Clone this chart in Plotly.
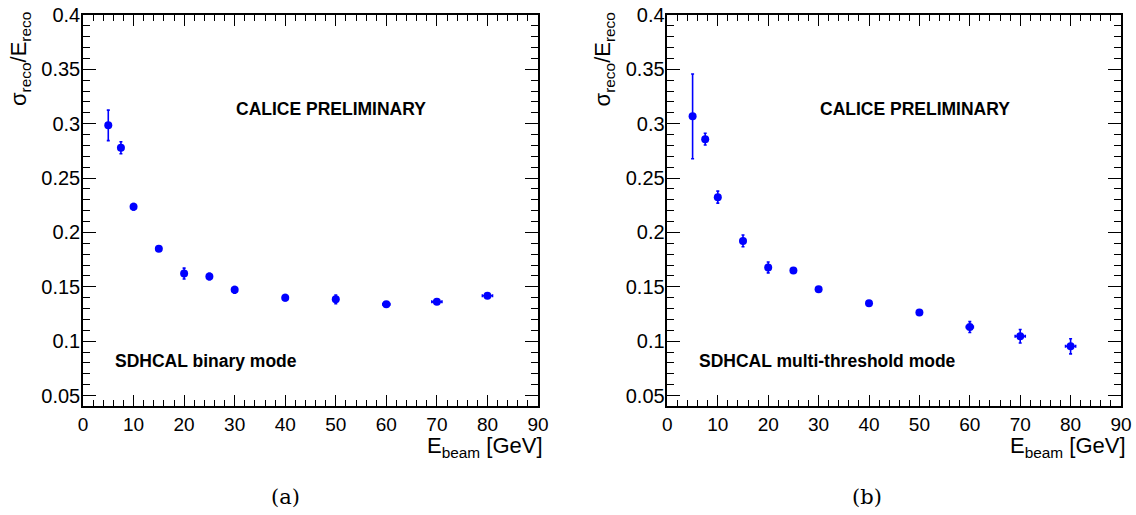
import plotly.graph_objects as go

# ---- data ----
energy_a = [5, 7.5, 10, 15, 20, 25, 30, 40, 50, 60, 70, 80]
res_a = [0.2985, 0.2779, 0.2236, 0.1850, 0.1622, 0.1595, 0.1472, 0.1400, 0.1385, 0.1340, 0.1362, 0.1418]
err_a = [0.0140, 0.0055, 0.0030, 0.0022, 0.0050, 0.0030, 0.0030, 0.0028, 0.0040, 0.0012, 0.0020, 0.0020]
xerr_a = [0, 0, 0, 0, 0, 0, 0, 0, 0, 0.7, 1.0, 1.0]

energy_b = [5, 7.5, 10, 15, 20, 25, 30, 40, 50, 60, 70, 80]
res_b = [0.3068, 0.2858, 0.2325, 0.1922, 0.1678, 0.1650, 0.1478, 0.1350, 0.1265, 0.1130, 0.1045, 0.0953]
err_b = [0.0390, 0.0054, 0.0055, 0.0054, 0.0050, 0.0010, 0.0020, 0.0010, 0.0010, 0.0050, 0.0062, 0.0070]
xerr_b = [0, 0, 0, 0, 0, 0, 0, 0, 0, 0.7, 1.0, 1.0]

x_range = [0, 90]
y_range = [0.0404, 0.4]

BLUE = "rgb(0,0,255)"
FONT = "Arial, Liberation Sans, sans-serif"
W, H = 1136, 515

fig = go.Figure()
for xs, ys, es, xe, xa, ya in [(energy_a, res_a, err_a, xerr_a, "x", "y"),
                                (energy_b, res_b, err_b, xerr_b, "x2", "y2")]:
    fig.add_trace(go.Scatter(
        x=xs, y=ys, mode="markers", xaxis=xa, yaxis=ya,
        marker=dict(color=BLUE, size=8, symbol="circle"),
        error_y=dict(type="data", array=es, color=BLUE, thickness=1.6, width=1.5),
        error_x=dict(type="data", array=xe, color=BLUE, thickness=1.6, width=1.5),
        showlegend=False, hoverinfo="skip",
    ))

Y_DOM = [1 - 406 / H, 1 - 15 / H]

def xaxis_cfg(domain, anchor):
    return dict(domain=domain, anchor=anchor, range=x_range, dtick=10, tick0=0,
                automargin=False,
                ticks="inside", ticklen=11, tickwidth=1, tickcolor="black",
                minor=dict(dtick=2, ticks="inside", ticklen=6, tickcolor="black", showgrid=False),
                mirror="allticks", showline=True, linecolor="black", linewidth=1.5,
                showgrid=False, zeroline=False,
                tickfont=dict(family=FONT, size=19, color="black"))

def yaxis_cfg(anchor):
    return dict(domain=Y_DOM, anchor=anchor, range=y_range, dtick=0.05, tick0=0,
                automargin=False, ticklabelstandoff=-3,
                ticks="inside", ticklen=13, tickwidth=1, tickcolor="black",
                minor=dict(dtick=0.01, ticks="inside", ticklen=7, tickcolor="black", showgrid=False),
                mirror="allticks", showline=True, linecolor="black", linewidth=1.5,
                showgrid=False, zeroline=False,
                tickfont=dict(family=FONT, size=20, color="black"))

XA = [83 / W, 538 / W]
XB = [667.4 / W, 1121 / W]

fig.update_layout(
    width=W, height=H,
    margin=dict(l=0, r=0, t=0, b=0, pad=0),
    paper_bgcolor="white", plot_bgcolor="white",
    xaxis=xaxis_cfg(XA, "y"),
    yaxis=yaxis_cfg("x"),
    xaxis2=xaxis_cfg(XB, "y2"),
    yaxis2=yaxis_cfg("x2"),
)

ann = []
for dom, mode, cap, capx in [(XA, "SDHCAL binary mode", "(a)", 285),
                             (XB, "SDHCAL multi-threshold mode", "(b)", 867)]:
    x0 = dom[0] * W
    x1 = dom[1] * W
    # y-axis title
    ann.append(dict(xref="paper", yref="paper", x=(x0 - 63) / W, y=1 - 10 / H,
                    xanchor="center", yanchor="top", textangle=-90, showarrow=False,
                    text="σ<sub>reco</sub>/E<sub>reco</sub>",
                    font=dict(family=FONT, size=22, color="black")))
    # x-axis title
    ann.append(dict(xref="paper", yref="paper", x=(x1 + 6) / W, y=1 - 432 / H,
                    xanchor="right", yanchor="top", showarrow=False, borderpad=0,
                    text="E<sub>beam</sub> [GeV]",
                    font=dict(family=FONT, size=22, color="black")))
    ann.append(dict(xref="paper", yref="paper", x=(x0 + 248) / W, y=1 - 109 / H,
                    xanchor="center", yanchor="middle", showarrow=False,
                    text="<b>CALICE PRELIMINARY</b>",
                    font=dict(family=FONT, size=17.5, color="black")))
    ann.append(dict(xref="paper", yref="paper", x=(x0 + 30) / W, y=1 - 361 / H,
                    xanchor="left", yanchor="middle", showarrow=False,
                    text="<b>" + mode + "</b>",
                    font=dict(family=FONT, size=17.5, color="black")))
    ann.append(dict(xref="paper", yref="paper", x=capx / W, y=1 - 497 / H,
                    xanchor="center", yanchor="middle", showarrow=False,
                    text=cap, font=dict(family="DejaVu Serif, Liberation Serif, serif", size=21, color="black")))

fig.update_layout(annotations=ann)
fig.write_html("out.html", config={"displayModeBar": False},
               post_script="document.body.style.margin='0';document.body.style.padding='0';")
